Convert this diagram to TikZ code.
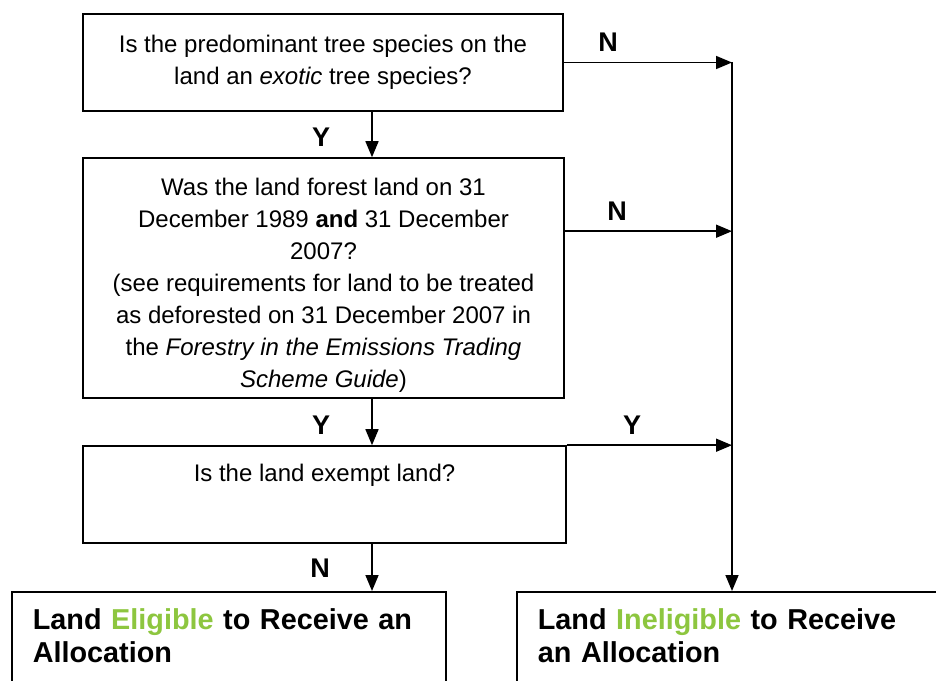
\documentclass[tikz,border=0pt]{standalone}
\usepackage{fontspec}
\setmainfont{Liberation Sans}
\usetikzlibrary{arrows.meta,positioning,calc}
\definecolor{leafgreen}{RGB}{141,198,63}

\begin{document}
\begin{tikzpicture}[x=1pt, y=-1pt, >={Triangle[length=16pt,width=13pt]}, line width=1.6pt]
        \tikzstyle{question}=[draw=black, line width=1.6pt, align=center, inner sep=0pt, font=\fontsize{24}{32}\selectfont]
        \tikzstyle{outcome}=[draw=black, line width=1.6pt, align=left, anchor=north west, inner xsep=21pt, inner ysep=0pt, minimum height=121pt, font=\bfseries\fontsize{28.8}{33}\selectfont]
        \tikzstyle{answer}=[font=\bfseries\fontsize{27}{27}\selectfont]
        \tikzstyle{flow}=[->, line width=1.6pt]
        \useasboundingbox (0,0) rectangle (936,680);

        % questions
        \node[question, minimum width=480pt, minimum height=97pt] (q1) at (323,62.5)
            {Is the predominant tree species on the\\land an \textit{exotic} tree species?};
        \node[question, minimum width=481pt, minimum height=240pt] (q2) at (323.5,278)
            {\rule{0pt}{32pt}Was the land forest land on 31\\December 1989 \textbf{and} 31 December\\2007?\\(see requirements for land to be treated\\as deforested on 31 December 2007 in\\the \textit{Forestry in the Emissions Trading}\\\textit{Scheme Guide})};
        \node[question, minimum width=483pt, minimum height=97pt] (q3) at (324.5,494.5)
            {Is the land exempt land?\\[12pt]\mbox{}};

        % outcomes
        \node[outcome, text width=392pt] (elig) at (11,591)
            {Land \textcolor{leafgreen}{Eligible} to Receive an\\Allocation\\\mbox{}};
        \node[outcome, text width=440pt] (inelig) at (516,591)
            {Land \textcolor{leafgreen}{Ineligible} to Receive\\an Allocation\\\mbox{}};

        \coordinate (spine) at (372,0);
        \coordinate (rail) at (732,62);
        \coordinate (q2out) at ($(q2.north east)+(0,74)$);

        % yes / no paths
        \draw[flow] (q1.south -| spine) -- (q2.north -| spine);
        \draw[flow] (q2.south -| spine) -- (q3.north -| spine);
        \draw[flow] (q3.south -| spine) -- (elig.north -| spine);
        \draw[flow] (q1.east) -- (q1.east -| rail);
        \draw[flow] (q2out) -- (q2out -| rail);
        \draw[flow] (q3.north east) -- (q3.north east -| rail);
        \draw[flow] (rail) -- (rail |- inelig.north);

        \node[answer] (y1) at (321,137) {Y};
        \node[answer] (y2) at (321,425) {Y};
        \node[answer] (n3) at (320,568) {N};
        \node[answer] (n1) at (608,42) {N};
        \node[answer] (n2) at (617,211) {N};
        \node[answer] (y3) at (632,425) {Y};
    \end{tikzpicture}
\end{document}
